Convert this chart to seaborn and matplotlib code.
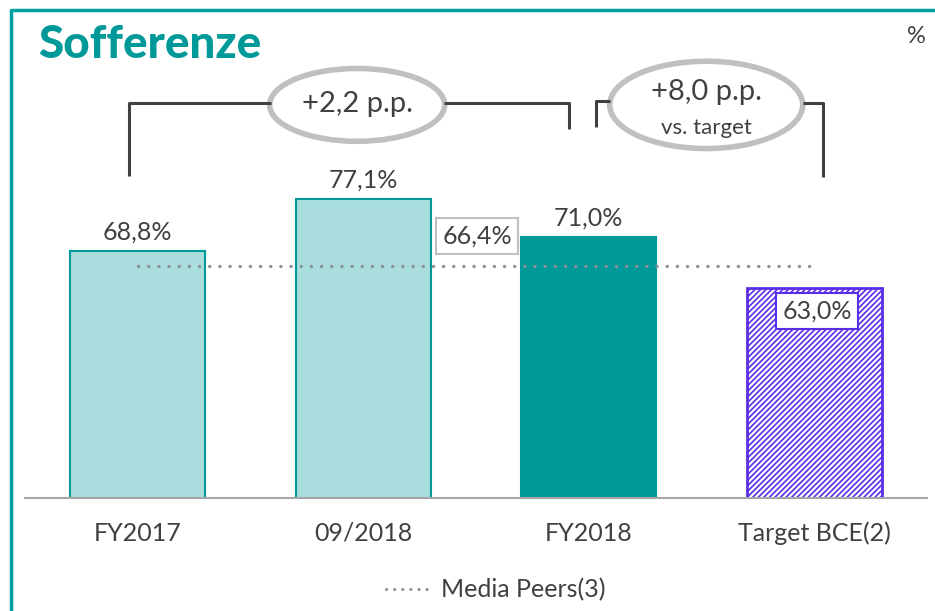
import seaborn as sns
import matplotlib.pyplot as plt
from matplotlib.patches import Ellipse
from matplotlib.lines import Line2D

# data
categories = ['FY2017', '09/2018', 'FY2018', 'Target BCE(2)']
values = [68.8, 77.1, 71.0, 63.0]
labels = ['68,8%', '77,1%', '71,0%', '63,0%']
peers_value = 66.4
peers_label = '66,4%'
delta_hist = '+2,2 p.p.'
delta_target = '+8,0 p.p.'

teal = '#009999'
light = '#aadddd'
violet = '#5a2ee8'
txt = '#404040'

sns.set_style('white')
plt.rcParams['font.family'] = ['Lato', 'DejaVu Sans']
plt.rcParams['hatch.linewidth'] = 1.2

fig = plt.figure(figsize=(9.35, 6.11), dpi=100)
ax = fig.add_axes([0.0267, 0.185, 0.9647, 0.668])

colors = [light, light, teal, 'white']
sns.barplot(x=categories, y=values, hue=categories, palette=colors,
            legend=False, width=0.6, ax=ax, saturation=1)

for i, p in enumerate(ax.patches):
    if i < 3:
        p.set_edgecolor(teal)
        p.set_linewidth(1.5)
    else:
        p.set_facecolor('white')
        p.set_edgecolor(violet)
        p.set_hatch('//////')
        p.set_linewidth(2)

ax.set_xlim(-0.5, 3.5)
ax.set_ylim(29.5, 94.5)
ax.set_yticks([])
ax.set_xlabel('')
ax.set_ylabel('')
sns.despine(ax=ax, left=True, top=True, right=True)
ax.spines['bottom'].set_color('#a6a6a6')
ax.spines['bottom'].set_linewidth(1.5)
ax.tick_params(axis='x', length=0, pad=17, labelsize=18, labelcolor=txt)

# value labels
for i in range(3):
    ax.text(i, values[i] + 3.0, labels[i], ha='center', va='center',
            fontsize=18, color=txt)
ax.text(3.013, 59.3, labels[3], ha='center', va='center', fontsize=18,
        color=txt, bbox=dict(boxstyle='square,pad=0.25', fc='white',
                             ec=violet, lw=1.5))

# peers average
ax.plot([0, 3], [peers_value, peers_value], color='#8c9099', lw=2.4,
        linestyle=(0, (0.05, 3.0)), dash_capstyle='round', zorder=4,
        label='Media Peers(3)')
ax.text(1.505, 71.24, peers_label, ha='center', va='center', fontsize=18,
        color=txt, bbox=dict(boxstyle='square,pad=0.25', fc='white',
                             ec='#bfbfbf', lw=1.5), zorder=5)

# brackets
bk = dict(color='#404040', lw=2.2, clip_on=False, solid_capstyle='butt')
ax.plot([-0.038, -0.038, 0.59], [80.8, 92.43, 92.43], **bk)
ax.plot([1.36, 1.913, 1.913], [92.43, 92.43, 88.3], **bk)
ax.add_patch(Ellipse((0.973, 92.1), 0.776, 11.6, fc='white', ec='#c0c0c0',
                     lw=4, clip_on=False))
ax.text(0.973, 92.3, delta_hist, ha='center', va='center', fontsize=21,
        color=txt)

ax.plot([2.033, 2.033, 2.095], [88.6, 92.7, 92.7], **bk)
ax.plot([2.951, 3.04, 3.04], [92.4, 92.4, 80.6], **bk)
ax.add_patch(Ellipse((2.521, 92.1), 0.856, 13.9, fc='white', ec='#c0c0c0',
                     lw=4, clip_on=False))
ax.text(2.521, 94.1, delta_target, ha='center', va='center', fontsize=21,
        color=txt)
ax.text(2.521, 88.4, 'vs. target', ha='center', va='center', fontsize=16,
        color=txt)

# legend
handle = Line2D([], [], color='#8c9099', lw=2.2, linestyle=(0, (0.05, 2.6)),
                dash_capstyle='round')
fig.legend([handle], ['Media Peers(3)'], loc='center', bbox_to_anchor=(0.53, 0.035),
           frameon=False, fontsize=18, labelcolor=txt, handlelength=1.7,
           handletextpad=0.5)

# title, unit and frame
fig.text(0.041, 0.927, 'Sofferenze', fontsize=33, fontweight='black',
         color=teal, ha='left', va='center')
fig.text(0.98, 0.94, '%', fontsize=17, color=txt, ha='center', va='center')
fig.add_artist(Line2D([0.0118, 0.0118, 1.0], [0.0, 0.9836, 0.9836],
                      color='#00a0a0', lw=2.5))

fig.savefig('out.png', dpi=100)
